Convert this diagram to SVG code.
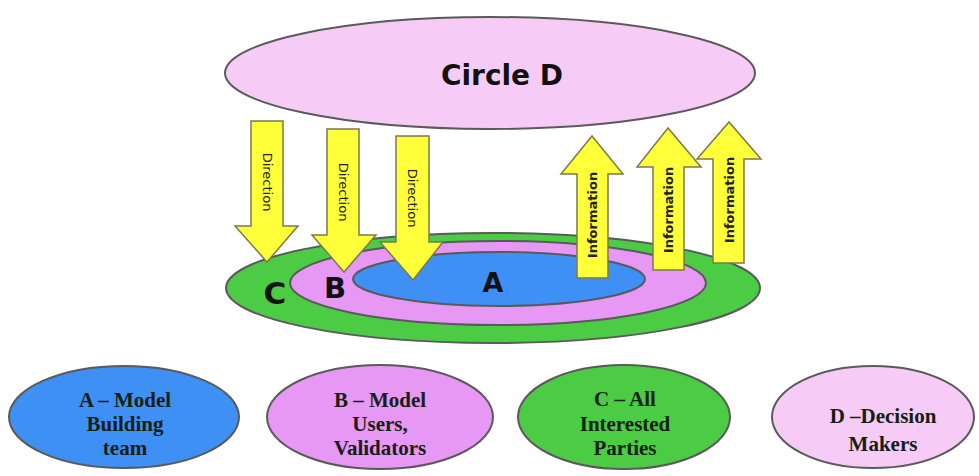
<svg xmlns="http://www.w3.org/2000/svg" width="979" height="476" viewBox="0 0 979 476">
<style>
.ell{stroke:#5a5a5a;stroke-width:2}
.arr{fill:#ffff3a;stroke:#7a7a50;stroke-width:1.5}
.lbl{font-family:"DejaVu Sans",sans-serif;font-weight:bold;fill:#111;text-anchor:middle}
.atx{font-family:"DejaVu Sans",sans-serif;font-size:13px;fill:#222;text-anchor:middle;dominant-baseline:central}
.key{font-family:"Liberation Serif",serif;font-weight:bold;font-size:21px;fill:#142014;text-anchor:middle}
</style>
<rect width="979" height="476" fill="#ffffff"/>
<g id="circleD">
<ellipse class="ell" cx="490" cy="73" rx="265" ry="56" fill="#f6ccf6"/>
<text class="lbl" x="502" y="85" font-size="28">Circle D</text>
</g>
<g id="circleC">
<ellipse class="ell" cx="493" cy="288" rx="267" ry="55" fill="#4ccb45"/>
<text class="lbl" x="275" y="304" font-size="31">C</text>
</g>
<g id="circleB">
<ellipse class="ell" cx="498" cy="283" rx="208" ry="42" fill="#e797f4"/>
<text class="lbl" x="335" y="298" font-size="29">B</text>
</g>
<g id="circleA">
<ellipse class="ell" cx="499" cy="279" rx="146" ry="27" fill="#3e90f4"/>
<text class="lbl" x="493" y="292" font-size="27">A</text>
</g>
<g id="connectors">
<g id="dir1">
<polygon class="arr" points="251,121 283,121 283,226 298,226 267,262 235,226 251,226"/>
<text class="atx" transform="translate(267,182) rotate(90)">Direction</text>
</g>
<g id="dir2">
<polygon class="arr" points="327,129 359,129 359,235 376,235 344,272 312,235 327,235"/>
<text class="atx" transform="translate(343,192) rotate(90)">Direction</text>
</g>
<g id="dir3">
<polygon class="arr" points="396,136 429,136 429,242 443,242 413,280 380,242 396,242"/>
<text class="atx" transform="translate(412,198) rotate(90)">Direction</text>
</g>
<g id="info1">
<polygon class="arr" points="577,278 608,278 608,174 623,174 592,136 561,174 577,174"/>
<text class="atx" font-weight="bold" font-size="12.5" transform="translate(592,215) rotate(-90)">Information</text>
</g>
<g id="info2">
<polygon class="arr" points="653,270 684,270 684,167 701,167 668,128 637,167 653,167"/>
<text class="atx" font-weight="bold" font-size="12.5" transform="translate(668,210) rotate(-90)">Information</text>
</g>
<g id="info3">
<polygon class="arr" points="713,263 744,263 744,159 761,159 729,122 697,159 713,159"/>
<text class="atx" font-weight="bold" font-size="12.5" transform="translate(729,200) rotate(-90)">Information</text>
</g>
</g>
<g id="keyA">
<ellipse class="ell" cx="124" cy="417" rx="115" ry="51" fill="#3e90f4"/>
<text class="key" x="125" y="407">A – Model</text>
<text class="key" x="125" y="431">Building</text>
<text class="key" x="125" y="455">team</text>
</g>
<g id="keyB">
<ellipse class="ell" cx="380" cy="417" rx="113" ry="52" fill="#e797f4"/>
<text class="key" x="380" y="407">B – Model</text>
<text class="key" x="380" y="431">Users,</text>
<text class="key" x="380" y="455">Validators</text>
</g>
<g id="keyC">
<ellipse class="ell" cx="624" cy="417" rx="106" ry="52" fill="#4ccb45"/>
<text class="key" x="625" y="406">C – All</text>
<text class="key" x="625" y="431">Interested</text>
<text class="key" x="625" y="455">Parties</text>
</g>
<g id="keyD">
<ellipse class="ell" cx="873" cy="417" rx="101" ry="51" fill="#f6ccf6"/>
<text class="key" x="883" y="423">D –Decision</text>
<text class="key" x="883" y="451">Makers</text>
</g>
</svg>
